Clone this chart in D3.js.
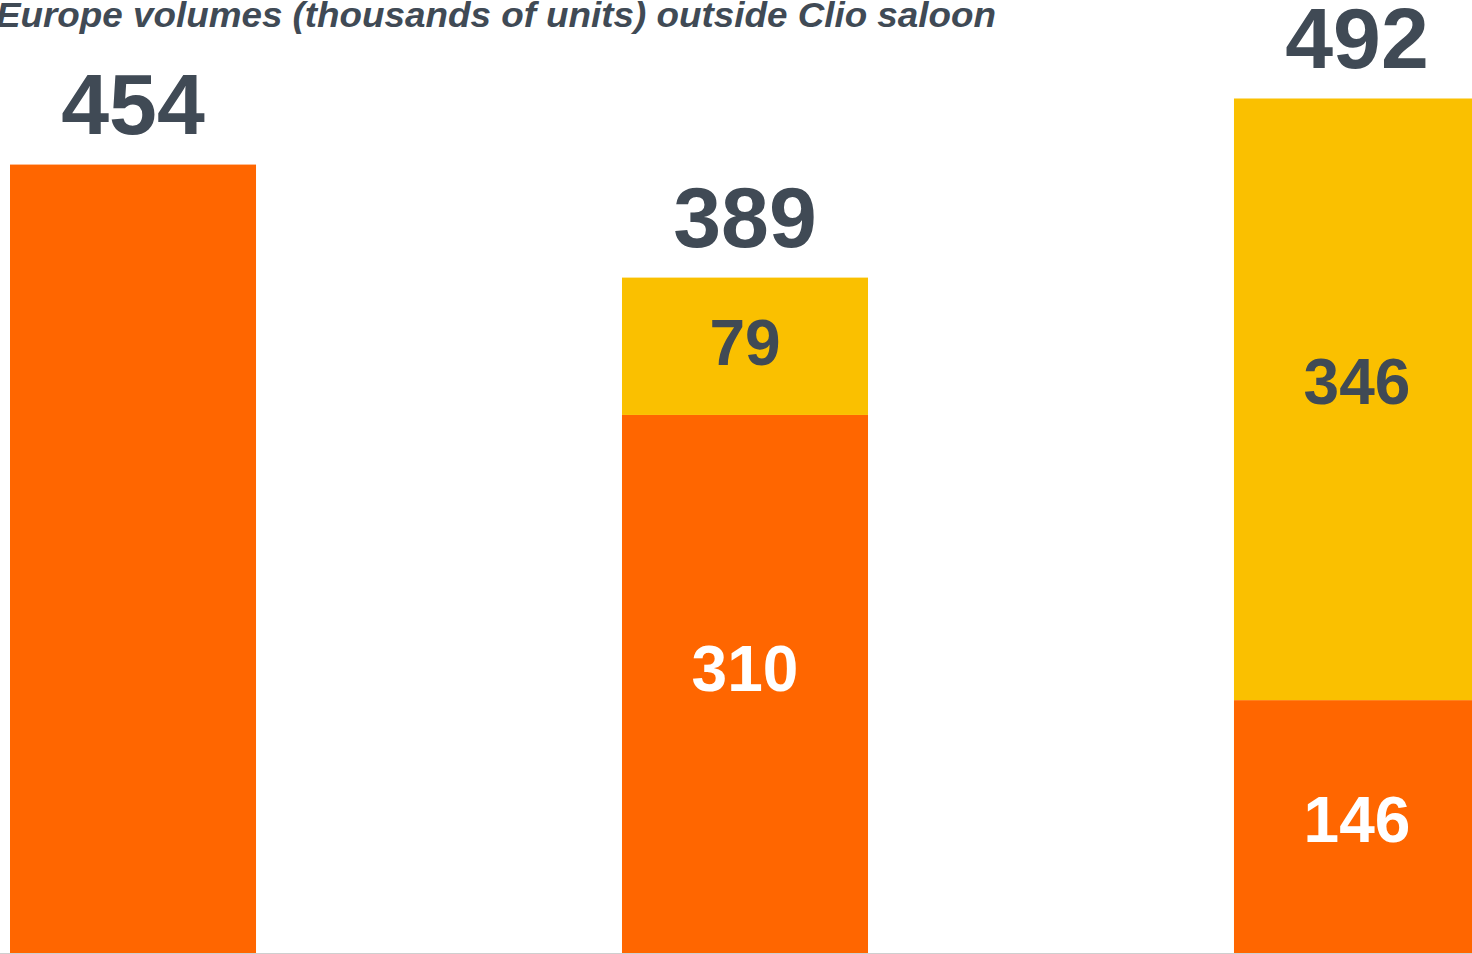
<!DOCTYPE html>
<html>
<head>
<meta charset="utf-8">
<script src="https://cdn.jsdelivr.net/npm/d3@7"></script>
<style>
    html, body { margin: 0; padding: 0; background: #fff; overflow: hidden; }
    svg { display: block; font-family: "Liberation Sans", Arial, sans-serif; }
</style>
</head>
<body>
<div id="chart"></div>
<script>
// data
var categories = ['Before', 'Transition', 'After'];
var outsideClio = [454, 310, 146];
var saloon = [0, 79, 346];
var totals = [454, 389, 492];
var titleText = 'Europe volumes (thousands of units) outside Clio saloon';

window.onload = start;

function start() {
    var width = 1472;
    var height = 954;
    var baseY = 954;
    var orange = '#ff6600';
    var yellow = '#fac000';
    var darkText = '#404a55';

    var svg = d3
        .select('#chart')
        .append('svg')
        .attr('width', width)
        .attr('height', height);

    var xScale = d3
        .scaleBand()
        .domain(categories)
        .range([10, 1480])
        .paddingInner(0.598)
        .paddingOuter(0);
    var yScale = d3.scaleLinear().domain([0, 492]).range([baseY, 98.5]);

    var rows = categories.map(function(c, i) {
        return { cat: c, outside: outsideClio[i], saloon: saloon[i], total: totals[i] };
    });
    var stack = d3.stack().keys(['outside', 'saloon'])(rows);
    var colors = { outside: orange, saloon: yellow };

    var layers = svg
        .append('g')
        .selectAll('g')
        .data(stack)
        .enter()
        .append('g')
        .attr('fill', function(d) {
            return colors[d.key];
        });

    layers
        .selectAll('rect')
        .data(function(d) {
            return d;
        })
        .enter()
        .append('rect')
        .attr('x', function(d) {
            return xScale(d.data.cat);
        })
        .attr('y', function(d) {
            return yScale(d[1]);
        })
        .attr('width', xScale.bandwidth())
        .attr('height', function(d) {
            return yScale(d[0]) - yScale(d[1]);
        });

    // segment labels, sitting a little above the middle of each piece
    stack.forEach(function(layer) {
        svg.append('g')
            .selectAll('text')
            .data(layer.filter(function(d) {
                return d[1] - d[0] > 0 && d.data.saloon > 0;
            }))
            .enter()
            .append('text')
            .attr('x', function(d) {
                return xScale(d.data.cat) + xScale.bandwidth() / 2;
            })
            .attr('y', function(d) {
                var top = yScale(d[1]);
                var bottom = yScale(d[0]);
                return top + (bottom - top) * 0.47 + 23;
            })
            .attr('text-anchor', 'middle')
            .attr('font-size', 64)
            .attr('font-weight', 'bold')
            .attr('fill', layer.key == 'outside' ? '#ffffff' : darkText)
            .text(function(d) {
                return d[1] - d[0];
            });
    });

    // totals
    svg.append('g')
        .selectAll('text')
        .data(rows)
        .enter()
        .append('text')
        .attr('x', function(d) {
            return xScale(d.cat) + xScale.bandwidth() / 2;
        })
        .attr('y', function(d) {
            return yScale(d.total) - 31;
        })
        .attr('text-anchor', 'middle')
        .attr('font-size', 86)
        .attr('font-weight', 'bold')
        .attr('fill', darkText)
        .text(function(d) {
            return d.total;
        });

    // baseline
    svg.append('line')
        .attr('x1', 0)
        .attr('x2', width)
        .attr('y1', baseY - 0.5)
        .attr('y2', baseY - 0.5)
        .attr('stroke', '#cfcfcf')
        .attr('stroke-width', 1);

    svg.append('text')
        .attr('x', -4)
        .attr('y', 27)
        .attr('font-size', 35)
        .attr('font-weight', 'bold')
        .attr('font-style', 'italic')
        .attr('fill', darkText)
        .attr('textLength', 1000)
        .attr('lengthAdjust', 'spacingAndGlyphs')
        .text(titleText);
}
</script>
</body>
</html>
